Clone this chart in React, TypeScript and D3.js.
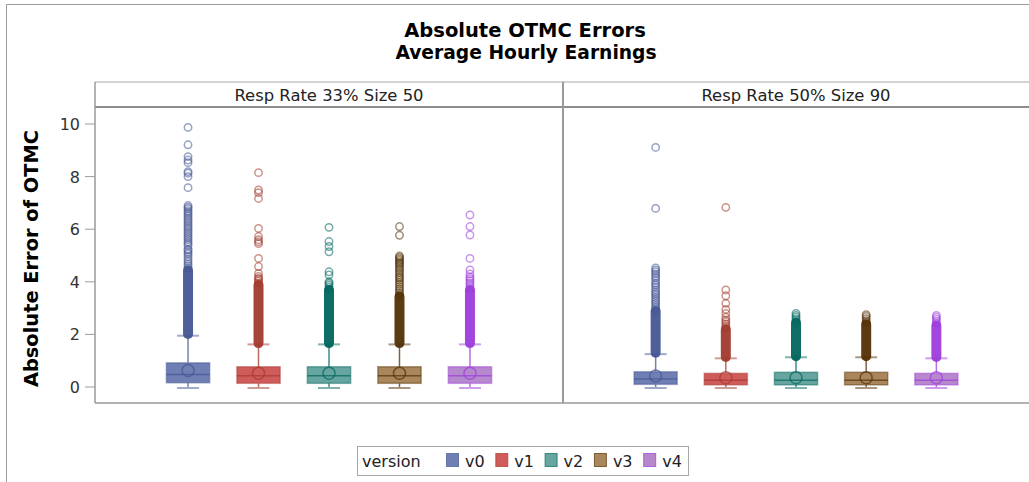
import React from "react";
import * as d3 from "d3";

// ---------- data ----------
const versions = ["v0", "v1", "v2", "v3", "v4"];
const panelLabels = ["Resp Rate 33% Size 50", "Resp Rate 50% Size 90"];
const yTicks = [0, 2, 4, 6, 8, 10];

// Panel 1: Resp Rate 33% Size 50
const q1_33 = [0.16, 0.14, 0.14, 0.14, 0.14];
const median_33 = [0.48, 0.43, 0.43, 0.43, 0.43];
const q3_33 = [0.92, 0.77, 0.77, 0.77, 0.77];
const mean_33 = [0.63, 0.52, 0.52, 0.52, 0.52];
const whiskLo_33 = [0, 0, 0, 0, 0];
const whiskHi_33 = [1.95, 1.62, 1.62, 1.62, 1.62];
const denseLo_33 = [2.0, 1.65, 1.65, 1.65, 1.65];
const denseHi_33 = [4.45, 3.9, 3.7, 3.45, 3.7];
const outliers_33_v0 = [4.52, 4.6, 4.68, 4.77, 4.85, 4.95, 5.05, 5.12, 5.2, 5.24, 5.38, 5.45, 5.52, 5.6, 5.68, 5.75, 5.83, 5.9, 5.98, 6.05, 6.12, 6.2, 6.28, 6.35, 6.42, 6.5, 6.57, 6.64, 6.7, 6.78, 6.84, 6.9, 7.58, 8.0, 8.13, 8.19, 8.53, 8.63, 8.76, 9.21, 9.87];
const outliers_33_v1 = [3.95, 4.02, 4.1, 4.13, 4.2, 4.32, 4.58, 4.89, 5.45, 5.52, 5.6, 5.72, 6.03, 7.17, 7.39, 7.49, 8.15];
const outliers_33_v2 = [3.72, 3.8, 3.88, 3.95, 4.0, 4.26, 4.38, 5.14, 5.34, 5.53, 6.07];
const outliers_33_v3 = [3.5, 3.58, 3.66, 3.74, 3.82, 3.9, 3.98, 4.06, 4.14, 4.19, 4.27, 4.35, 4.43, 4.5, 4.57, 4.64, 4.7, 4.75, 4.81, 4.87, 4.93, 4.98, 5.77, 6.1];
const outliers_33_v4 = [3.72, 3.8, 3.88, 3.96, 4.04, 4.12, 4.19, 4.3, 4.45, 4.89, 5.78, 6.1, 6.54];

// Panel 2: Resp Rate 50% Size 90
const q1_50 = [0.1, 0.08, 0.08, 0.08, 0.08];
const median_50 = [0.3, 0.26, 0.26, 0.26, 0.26];
const q3_50 = [0.58, 0.52, 0.56, 0.56, 0.52];
const mean_50 = [0.42, 0.35, 0.35, 0.35, 0.35];
const whiskLo_50 = [0, 0, 0, 0, 0];
const whiskHi_50 = [1.25, 1.09, 1.13, 1.13, 1.09];
const denseLo_50 = [1.28, 1.12, 1.15, 1.15, 1.12];
const denseHi_50 = [2.9, 2.2, 2.45, 2.4, 2.35];
const outliers_50_v0 = [2.95, 3.02, 3.1, 3.18, 3.25, 3.32, 3.4, 3.48, 3.55, 3.62, 3.7, 3.8, 3.88, 3.95, 4.05, 4.15, 4.22, 4.3, 4.38, 4.45, 4.53, 6.79, 9.11];
const outliers_50_v1 = [2.25, 2.32, 2.4, 2.48, 2.55, 2.65, 2.8, 2.95, 3.18, 3.47, 3.69, 6.83];
const outliers_50_v2 = [2.5, 2.58, 2.65, 2.72, 2.8];
const outliers_50_v3 = [2.45, 2.52, 2.6, 2.68, 2.75];
const outliers_50_v4 = [2.42, 2.5, 2.58, 2.65, 2.72];

const fillColors = ["#6F7EB3", "#D05B5B", "#66A5A0", "#A9865B", "#B689CD"];
const lineColors = ["#445694", "#A23A2E", "#01665E", "#543005", "#9D3CDB"];

const panels = [
  { label: panelLabels[0], q1: q1_33, med: median_33, q3: q3_33, mean: mean_33, lo: whiskLo_33, hi: whiskHi_33, dLo: denseLo_33, dHi: denseHi_33, out: [outliers_33_v0, outliers_33_v1, outliers_33_v2, outliers_33_v3, outliers_33_v4] },
  { label: panelLabels[1], q1: q1_50, med: median_50, q3: q3_50, mean: mean_50, lo: whiskLo_50, hi: whiskHi_50, dLo: denseLo_50, dHi: denseHi_50, out: [outliers_50_v0, outliers_50_v1, outliers_50_v2, outliers_50_v3, outliers_50_v4] },
];

// ---------- layout ----------
const W = 1029;
const H = 482;
const FONT = "'DejaVu Sans', Verdana, sans-serif";
const panelX = [[95, 563], [563, 1029]];
const headerTop = 82;
const plotTop = 107;
const plotBottom = 403;
const y = d3.scaleLinear().domain([0, 10]).range([387, 124]);

export default function App() {
  return (
    <svg width={W} height={H} style={{ position: "absolute", left: 0, top: 0, background: "#fff" }} fontFamily={FONT}>
      <rect x={0} y={0} width={W} height={H} fill="#fff" />
      {/* outer frame */}
      <line x1={6.5} y1={4.5} x2={W} y2={4.5} stroke="#9a9a9a" strokeWidth={1} />
      <line x1={6.5} y1={4.5} x2={6.5} y2={H} stroke="#9a9a9a" strokeWidth={1} />

      {/* titles */}
      <text x={525} y={37} textAnchor="middle" fontSize={19.5} fontWeight="bold" fill="#000">Absolute OTMC Errors</text>
      <text x={526} y={58.5} textAnchor="middle" fontSize={18.7} fontWeight="bold" fill="#000">Average Hourly Earnings</text>

      {/* y axis label */}
      <text transform={`translate(37.5,${(y(10) + y(0)) / 2 + 3}) rotate(-90)`} textAnchor="middle" fontSize={19.4} fontWeight="bold" fill="#000">Absolute Error of OTMC</text>

      {/* y ticks */}
      {yTicks.map((t) => (
        <g key={t}>
          <line x1={85} x2={95} y1={y(t)} y2={y(t)} stroke="#9a9a9a" strokeWidth={1} />
          <text x={80} y={y(t) + 6} textAnchor="end" fontSize={16} fill="#333">{t}</text>
        </g>
      ))}

      {panels.map((p, pi) => {
        const [x0, x1] = panelX[pi];
        const x = d3.scalePoint().domain(versions).range([x0, x1]).padding(1.32);
        const step = x.step();
        const bw = step * 0.615;
        const cw = 22;
        return (
          <g key={pi}>
            {/* header strip */}
            <rect x={x0} y={headerTop} width={x1 - x0} height={plotTop - headerTop} fill="#fff" />
            <text x={(x0 + x1) / 2} y={101} textAnchor="middle" fontSize={16.4} fill="#222">{p.label}</text>

            {versions.map((v, i) => {
              const cx = x(v)!;
              const lc = lineColors[i];
              const fc = fillColors[i];
              return (
                <g key={v}>
                  {/* dense outlier run */}
                  <rect x={cx - 5} width={10} y={y(p.dHi[i]) - 4.5} height={y(p.dLo[i]) - y(p.dHi[i]) + 9} rx={5} fill={lc} opacity={0.95} />
                  {/* individual outliers */}
                  {p.out[i].map((o, k) => (
                    <circle key={k} cx={cx} cy={y(o)} r={3.7} fill="none" stroke={lc} strokeOpacity={0.55} strokeWidth={1.5} />
                  ))}
                  {/* whiskers */}
                  <line x1={cx} x2={cx} y1={y(p.hi[i])} y2={y(p.q3[i])} stroke={lc} strokeOpacity={0.75} strokeWidth={1.5} />
                  <line x1={cx} x2={cx} y1={y(p.q1[i])} y2={y(p.lo[i])} stroke={lc} strokeOpacity={0.75} strokeWidth={1.5} />
                  <line x1={cx - cw / 2} x2={cx + cw / 2} y1={y(p.hi[i])} y2={y(p.hi[i])} stroke={lc} strokeOpacity={0.5} strokeWidth={2} />
                  <line x1={cx - cw / 2} x2={cx + cw / 2} y1={y(p.lo[i]) + 1} y2={y(p.lo[i]) + 1} stroke={lc} strokeOpacity={0.5} strokeWidth={2} />
                  {/* box */}
                  <rect x={cx - bw / 2} y={y(p.q3[i])} width={bw} height={y(p.q1[i]) - y(p.q3[i])} fill={fc} stroke={lc} strokeOpacity={0.45} strokeWidth={1.5} />
                  <line x1={cx - bw / 2} x2={cx + bw / 2} y1={y(p.med[i])} y2={y(p.med[i])} stroke={lc} strokeOpacity={0.7} strokeWidth={1.5} />
                  <circle cx={cx} cy={y(p.mean[i])} r={6} fill="none" stroke={lc} strokeOpacity={0.7} strokeWidth={1.5} />
                </g>
              );
            })}
          </g>
        );
      })}

      {/* panel borders */}
      <line x1={95} x2={W} y1={headerTop} y2={headerTop} stroke="#a8a8a8" strokeWidth={1.2} />
      <line x1={95} x2={W} y1={plotTop} y2={plotTop} stroke="#8c8c8c" strokeWidth={2} />
      <line x1={95} x2={W} y1={plotBottom} y2={plotBottom} stroke="#9a9a9a" strokeWidth={1.5} />
      <line x1={95} x2={95} y1={headerTop} y2={plotBottom} stroke="#9a9a9a" strokeWidth={1.5} />
      <line x1={563} x2={563} y1={headerTop} y2={plotBottom} stroke="#9a9a9a" strokeWidth={2} />

      {/* legend */}
      <rect x={357.5} y={446.5} width={331} height={29} fill="#fff" stroke="#a8a8a8" strokeWidth={1} />
      <text x={362} y={467} fontSize={16} fill="#222">version</text>
      {versions.map((v, i) => (
        <g key={v}>
          <rect x={446.5 + i * 49.3} y={453.5} width={12} height={13} fill={fillColors[i]} stroke={lineColors[i]} strokeOpacity={0.7} strokeWidth={1} />
          <text x={465 + i * 49.3} y={467} fontSize={16} fill="#222">{v}</text>
        </g>
      ))}
    </svg>
  );
}
